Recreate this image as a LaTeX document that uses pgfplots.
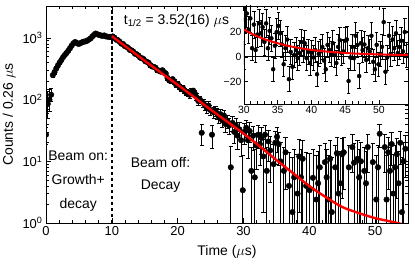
\documentclass[border=0pt]{standalone}
\usepackage{fontspec}
\setmainfont{Liberation Sans}
\usepackage{pgfplots}
\pgfplotsset{compat=1.18}
\usepackage{pgfplotstable}

\pgfplotstableread{
t y e em
0.00 27 8 8
0.26 85 50 35
0.52 100 45 35
0.78 120 30 28
1.04 250 20 20
1.30 280 20 20
1.56 320 21 21
1.82 360 22 22
2.08 400 24 24
2.34 440 25 25
2.60 490 26 26
2.86 530 27 27
3.12 570 28 28
3.38 620 29 29
3.64 680 30 30
3.90 750 32 32
4.16 820 33 33
4.42 860 34 34
4.68 830 33 33
4.94 800 33 33
5.20 820 33 33
5.46 850 34 34
5.72 870 34 34
5.98 880 34 34
6.24 900 35 35
6.50 940 35 35
6.76 980 36 36
7.02 1050 37 37
7.28 1120 38 38
7.54 1180 39 39
7.80 1150 39 39
8.06 1120 38 38
8.32 1100 38 38
8.58 1080 38 38
8.84 1100 38 38
9.10 1060 37 37
9.36 1050 37 37
9.62 1040 37 37
9.88 1030 37 37
10.14 1060 34 34
10.40 1010 33 33
10.66 940 32 32
10.92 920 32 32
11.18 870 31 31
11.44 810 30 30
11.70 800 30 30
11.96 740 29 29
12.22 720 28 28
12.48 690 28 28
12.74 640 27 27
13.00 630 27 27
13.26 600 26 26
13.52 555 25 25
13.78 545 25 25
14.04 520 24 24
14.30 480 24 24
14.56 470 23 23
14.82 455 23 23
15.08 420 22 22
15.34 410 22 22
15.60 395 22 22
15.86 360 21 21
16.12 345 21 21
16.38 340 20 20
16.64 330 20 20
16.90 300 19 19
17.16 295 19 19
17.42 285 19 19
17.68 300 19 19
17.94 280 19 19
18.20 265 19 19
18.46 225 17 17
18.72 205 17 17
18.98 200 17 17
19.24 215 17 17
19.50 195 17 17
19.76 175 16 16
20.02 180 16 16
20.28 160 15 15
20.54 150 15 15
20.80 155 15 15
21.06 140 15 15
21.32 130 14 14
21.58 125 14 14
21.84 120 14 14
22.10 135 15 15
22.36 140 15 15
22.62 125 14 14
22.88 110 14 14
23.14 95 13 13
23.40 100 13 13
23.66 29 11 11
23.92 88 13 13
24.18 80 13 13
24.44 72 12 12
24.70 80 13 13
24.96 68 12 12
25.22 27 11 11
25.48 62 12 12
25.74 66 12 12
26.00 60 12 12
26.26 52 11 11
26.52 58 12 12
26.78 46 11 11
27.04 55 12 12
27.30 40 11 11
27.56 45 11 11
27.82 38 11 11
28.08 8 9.5 7.7
28.34 42 11 11
28.60 30 10.5 10.5
28.86 38 11 11
29.12 26 10.5 10.5
29.38 33 10.5 10.5
29.64 22 10 10
29.90 3.4 9.2 3.1
30.16 30 11 11
30.42 35 11 11
30.68 22 11 11
30.94 31 11 11
31.20 7 10 6.7
31.46 26 11 11
31.72 5.5 10 5.2
31.98 18 10.5 10.5
32.24 27 11 11
32.50 19 10.5 10.5
32.76 24 11 11
33.02 12 10.5 10.5
33.28 27 11 11
33.54 7 10 6.7
33.80 21 11 11
34.06 15 10.5 10.5
34.32 -10 10 10
34.58 9 10 8.7
34.84 20 11 11
35.10 25 11 11
35.36 19 10.5 10.5
35.62 10 10.5 9.7
35.88 -6 10 10
36.14 7 10 6.7
36.40 14 10.5 10.5
36.66 -18 10 10
36.92 4 10 3.7
37.18 -8 10 10
37.44 1.5 10 1.2
37.70 5.5 10 5.2
37.96 -1 10 10
38.22 3 10 2.7
38.48 12 10.5 10.5
38.74 5.5 10 5.2
39.00 11 10.5 10.5
39.26 -1 10 10
39.52 4 10 3.7
39.78 -5 10 10
40.04 3.4 10 3.1
40.30 -0.5 10 10
40.56 5.4 10 5.1
40.82 -14 10 10
41.08 2.4 10 2.1
41.34 4.4 10 4.1
41.60 8 10 7.7
41.86 -3 10 10
42.12 -10 10 10
42.38 9.7 10 9.4
42.64 5.5 10 5.2
42.90 2.4 10 2.1
43.16 11 10.5 10.5
43.42 1.5 10 1.2
43.68 -5 10 10
43.94 8 10 7.7
44.20 13.5 10.5 10.5
44.46 3 10 2.7
44.72 4.4 10 4.1
44.98 13 10.5 10.5
45.24 14 10.5 10.5
45.50 -19.5 10 10
45.76 -0.5 10 10
46.02 8 10 7.7
46.28 -1 10 10
46.54 17 10.5 10.5
46.80 9.5 10 9.2
47.06 -15.5 10 10
47.32 11 10.5 10.5
47.58 5.5 10 5.2
47.84 10 10.5 9.7
48.10 -2.5 10 10
48.36 7 10 6.7
48.62 4.4 10 4.1
48.88 17 10.5 10.5
49.14 -4 10 10
49.40 -10 10 10
49.66 9.7 10 9.4
49.92 -6 10 10
50.18 2.4 10 2.1
50.44 8 10 7.7
50.70 28 11 11
50.96 -12 10 10
51.22 -0.5 10 10
51.48 17 10.5 10.5
51.74 2.4 10 2.1
52.00 14 10.5 10.5
52.26 7 10 6.7
52.52 19 10.5 10.5
52.78 3 10 2.7
53.04 8 10 7.7
53.30 13 10.5 10.5
53.56 4.4 10 4.1
53.82 20 11 11
54.08 1.5 10 1.2
54.34 10 10.5 9.7
54.60 16 10.5 10.5
54.86 -3 10 10
}\data

\pgfplotsset{
  datastyle/.style={only marks, mark=*, mark size=2.8bp, black,
    error bars/y dir=both, error bars/y explicit,
    error bars/error bar style={line width=0.8pt, black},
    error bars/error mark options={rotate=90, mark size=2.2bp, line width=0.8pt, black}},
}

\begin{document}
\begin{tikzpicture}
\begin{axis}[name=main, scale only axis, width=362bp, height=217bp,
  xmin=0, xmax=55, ymode=log, ymin=1, ymax=3300,
  xtick={0,10,20,30,40,50}, minor x tick num=4,
  ytick={1,10,100,1000},
  yticklabels={10\textsuperscript{0},10\textsuperscript{1},10\textsuperscript{2},10\textsuperscript{3}},
  xticklabels={0,10,20,30,40,50},
  tick label style={font=\fontsize{13}{15}\selectfont},
  label style={font=\fontsize{14}{16}\selectfont},
  xlabel={Time ($\mu$s)}, ylabel={Counts / 0.26 $\mu$s},
  xlabel style={yshift=-3bp},
  major tick length=5bp, minor tick length=3bp,
  axis line style={line width=0.8pt}, tick style={line width=0.6pt, black},
  clip=true, clip marker paths=true]
\addplot[datastyle] table[x=t, y=y, y error plus=e, y error minus=em] {\data};
\addplot[black, line width=1.6pt, dash pattern=on 3.5pt off 2.5pt] coordinates {(10,1) (10,3300)};
\addplot[red, line width=2.4pt, smooth] coordinates {
(10,1072) (12.5,676) (15,427) (17.5,272) (20,174) (22.5,110) (25,69) (27.5,44.2)
(30,28.2) (32.5,17.4) (35,10.5) (37.5,6.46) (40,3.98) (42.5,2.63) (45,1.82)
(47.5,1.45) (50,1.20) (52.5,1.05) (55,0.91)};
\node[anchor=west, font=\fontsize{14}{16}\selectfont] at (axis cs:11.3,1900) {t\textsubscript{1/2} = 3.52(16) $\mu$s};
\node[align=center, font=\fontsize{14}{24}\selectfont] at (axis cs:4.9,4.8) {Beam on:\\Growth+\\decay};
\node[align=center, font=\fontsize{14}{22}\selectfont] at (axis cs:17.4,6.0) {Beam off:\\Decay};
\end{axis}
\begin{axis}[at={(main.north east)}, anchor=north east, scale only axis,
  width=164bp, height=98bp,
  xmin=30, xmax=54.3, ymin=-38, ymax=41,
  axis background/.style={fill=white},
  xtick={30,35,40,45,50}, xticklabels={30,35,40,45,50},
  ytick={-20,0,20}, yticklabels={−20,0,20},
  minor x tick num=4, minor y tick num=1,
  tick label style={font=\fontsize{10.5}{12}\selectfont},
  major tick length=4bp, minor tick length=2.5bp,
  axis line style={line width=0.8pt}, tick style={line width=0.6pt, black},
  xticklabel style={yshift=1bp}, yticklabel style={xshift=1bp},
  clip marker paths=true]
\addplot[black, line width=0.8pt] coordinates {(30,0) (55,0)};
\addplot[datastyle, mark size=2bp,
  error bars/error mark options={rotate=90, mark size=1.8bp, line width=0.7pt, black},
  error bars/error bar style={line width=0.7pt, black},
  restrict x to domain=29.9:56] table[x=t, y=y, y error=e] {\data};
\addplot[red, line width=2pt, smooth] coordinates {
(30,22) (31,19) (32,16.5) (33,14.3) (34,12.5) (35,11) (36,9.5) (38,7.3) (40,5.6)
(42,4.4) (44,3.5) (46,2.8) (48,2.3) (50,2.0) (52,1.7) (54.3,1.5)};
\end{axis}
\pgfresetboundingbox
\path ([shift={(-46bp,-41bp)}]main.south west) rectangle ([shift={(7bp,6bp)}]main.north east);
\end{tikzpicture}
\end{document}
